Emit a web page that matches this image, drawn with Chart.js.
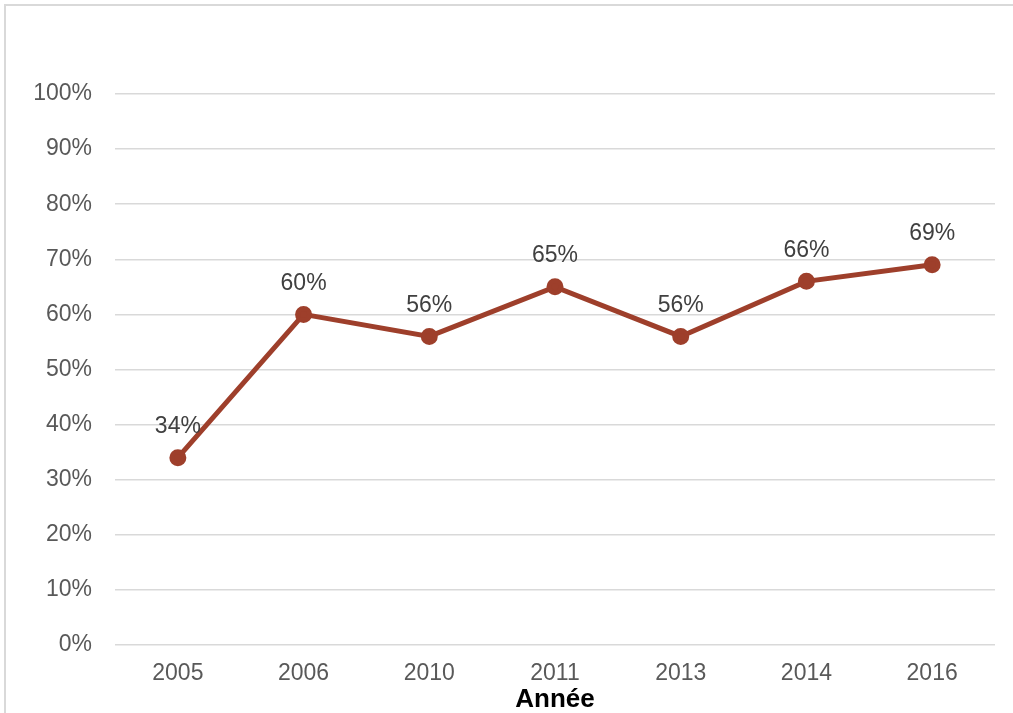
<!DOCTYPE html>
<html>
<head>
<meta charset="utf-8">
<script src="https://cdn.jsdelivr.net/npm/chart.js@4/dist/chart.umd.min.js"></script>
<style>
  body { margin: 0; background: #fff; overflow: hidden; }
  #frame { position: absolute; left: 4px; top: 4px; width: 1030px; height: 730px; border: 2px solid #d9d9d9; }
  #wrap { position: absolute; left: 0; top: 0; width: 1013px; height: 713px; }
</style>
</head>
<body>
<div id="frame"></div>
<div id="wrap"><canvas id="chart"></canvas></div>
<script>
const years = ['2005', '2006', '2010', '2011', '2013', '2014', '2016'];
const shares = [34, 60, 56, 65, 56, 66, 69];
const axisTitle = 'Année';

const FONT = '"Liberation Sans", Arial, sans-serif';

const valueLabels = {
    id: 'valueLabels',
    afterDatasetsDraw(chart) {
        const ctx = chart.ctx;
        ctx.save();
        ctx.font = '23px ' + FONT;
        ctx.fillStyle = '#404040';
        ctx.textAlign = 'center';
        ctx.textBaseline = 'middle';
        chart.getDatasetMeta(0).data.forEach((pt, i) => {
            ctx.fillText(shares[i] + '%', pt.x, pt.y - 31);
        });
        ctx.restore();
    }
};

const ctx = document.getElementById('chart').getContext('2d');
const chart = new Chart(ctx, {
    type: 'line',
    data: {
        labels: years,
        datasets: [{
            data: shares,
            borderColor: '#9e3f2b',
            backgroundColor: '#9e3f2b',
            borderWidth: 5,
            pointRadius: 6,
            pointHoverRadius: 6,
            tension: 0
        }]
    },
    options: {
        responsive: true,
        maintainAspectRatio: false,
        animation: false,
        layout: { padding: { top: 94, right: 18, left: 0, bottom: 0 } },
        plugins: { legend: { display: false }, tooltip: { enabled: false } },
        scales: {
            x: {
                offset: true,
                grid: { display: false, drawTicks: false },
                border: { display: false },
                ticks: {
                    padding: 15,
                    color: '#595959',
                    font: { family: FONT, size: 23 }
                },
                title: {
                    display: true,
                    text: axisTitle,
                    color: '#000',
                    padding: { top: 0, bottom: 0 },
                    font: { family: FONT, size: 26, weight: 'bold', lineHeight: 1.0 }
                },
                afterFit(scale) { scale.height = 68; }
            },
            y: {
                min: 0,
                max: 100,
                grid: { color: '#d9d9d9', lineWidth: 1.5, drawTicks: false },
                border: { display: false },
                ticks: {
                    stepSize: 10,
                    padding: 23,
                    color: '#595959',
                    font: { family: FONT, size: 23 },
                    callback: v => v + '%'
                },
                afterFit(scale) { scale.width = 115; }
            }
        }
    },
    plugins: [valueLabels]
});
</script>
</body>
</html>
